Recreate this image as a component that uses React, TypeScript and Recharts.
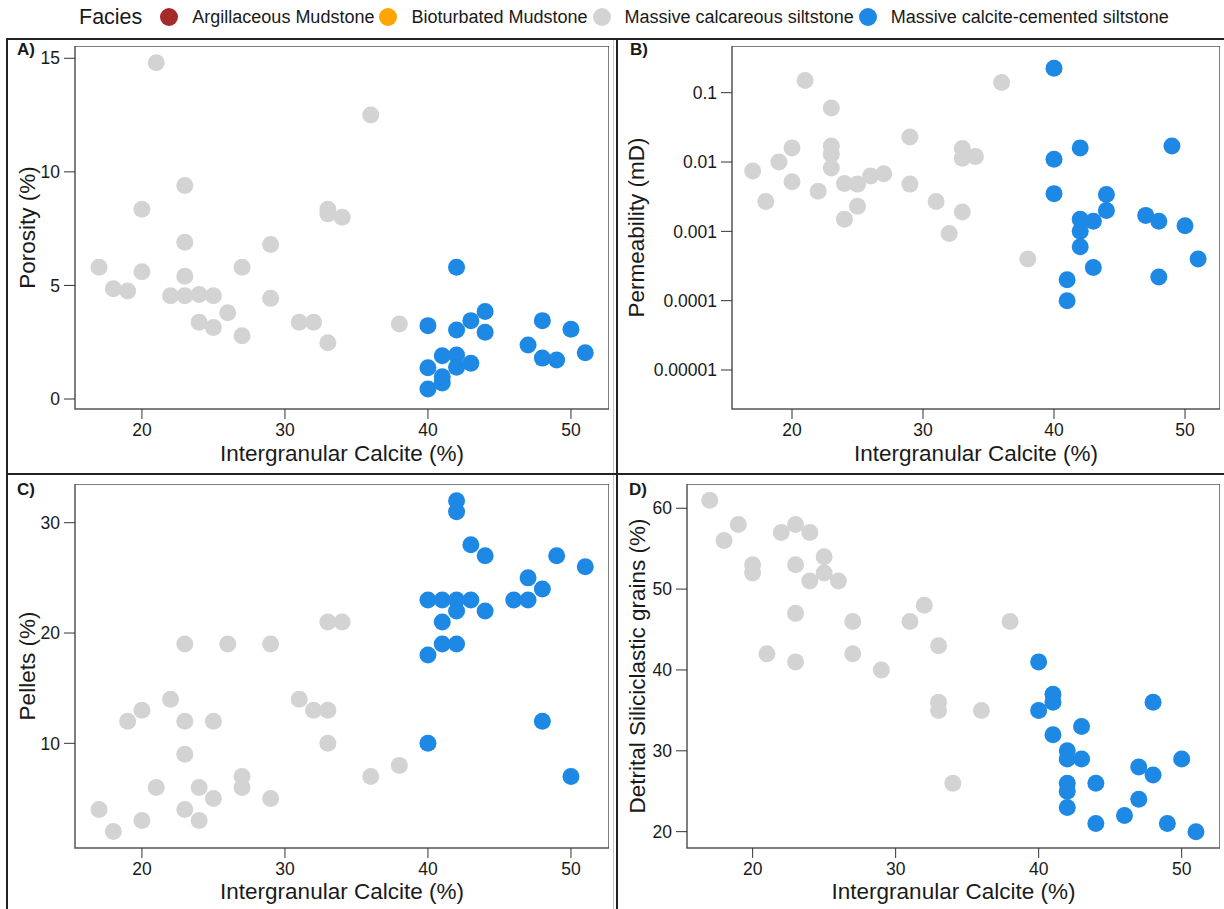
import { ScatterChart, Scatter, XAxis, YAxis, ReferenceArea } from "recharts";

const FONT = "'Liberation Sans', Arial, sans-serif";
const INK = "#1a1a1a";

// legend
const facies = [
  "Argillaceous Mudstone",
  "Bioturbated Mudstone",
  "Massive calcareous siltstone",
  "Massive calcite-cemented siltstone",
];
const faciesColors = ["#a52a2a", "#ffa500", "#d3d3d3", "#1e88e5"];

const xTicks = [20, 30, 40, 50];
const porosityTicks = [0, 5, 10, 15];
const permTicks = [0.00001, 0.0001, 0.001, 0.01, 0.1];
const pelletTicks = [10, 20, 30];
const detritalTicks = [20, 30, 40, 50, 60];

type Pt = [number, number];

// A) porosity vs intergranular calcite
const porosityCalcareous: Pt[] = [
  [21, 14.8], [23, 9.4], [20, 8.35], [23, 6.9], [29, 6.8], [17, 5.8], [27, 5.8],
  [20, 5.6], [23, 5.4], [18, 4.85], [19, 4.75], [22, 4.55], [23, 4.55], [24, 4.6],
  [25, 4.55], [29, 4.43], [26, 3.8], [24, 3.38], [31, 3.38], [25, 3.15], [27, 2.78],
  [36, 12.5], [33, 8.35], [33, 8.15], [34, 8.0], [32, 3.38], [33, 2.48], [38, 3.3],
];
const porosityCemented: Pt[] = [
  [42, 5.8], [44, 3.85], [43, 3.45], [40, 3.23], [42, 3.04], [44, 2.94], [48, 3.45],
  [50, 3.07], [47, 2.38], [51, 2.04], [48, 1.8], [49, 1.72], [41, 1.9], [42, 1.94],
  [43, 1.57], [42, 1.4], [40, 1.38], [41, 0.98], [41, 0.7], [40, 0.44],
];

// B) permeability (log)
const permCalcareous: Pt[] = [
  [21, 0.15], [23, 0.06], [29, 0.023], [20, 0.016], [23, 0.017], [23, 0.013],
  [19, 0.01], [23, 0.0082], [17, 0.0074], [27, 0.0068], [26, 0.0063], [20, 0.0052],
  [24, 0.0049], [25, 0.0048], [29, 0.0048], [22, 0.0038], [18, 0.0027], [25, 0.0023],
  [24, 0.0015], [36, 0.14], [33, 0.0157], [33, 0.0113], [34, 0.012], [31, 0.0027],
  [33, 0.0019], [32, 0.00093], [38, 0.0004],
];
const permCemented: Pt[] = [
  [40, 0.225], [42, 0.016], [49, 0.017], [40, 0.011], [40, 0.0035], [44, 0.0034],
  [44, 0.002], [47, 0.0017], [48, 0.0014], [42, 0.0015], [43, 0.0014], [50, 0.0012],
  [42, 0.001], [42, 0.0006], [51, 0.0004], [43, 0.0003], [48, 0.00022], [41, 0.0002],
  [41, 0.0001],
];

// C) pellets
const pelletCalcareous: Pt[] = [
  [23, 19], [26, 19], [29, 19], [22, 14], [31, 14], [20, 13], [19, 12], [23, 12],
  [25, 12], [23, 9], [27, 7], [21, 6], [24, 6], [27, 6], [25, 5], [29, 5], [17, 4],
  [23, 4], [20, 3], [24, 3], [18, 2], [33, 21], [34, 21], [32, 13], [33, 13],
  [33, 10], [38, 8], [36, 7],
];
const pelletCemented: Pt[] = [
  [42, 32], [42, 31], [43, 28], [44, 27], [49, 27], [51, 26], [47, 25], [48, 24],
  [40, 23], [41, 23], [42, 23], [43, 23], [46, 23], [47, 23], [42, 22], [44, 22],
  [41, 21], [41, 19], [42, 19], [40, 18], [48, 12], [40, 10], [50, 7],
];

// D) detrital siliciclastic grains
const detritalCalcareous: Pt[] = [
  [17, 61], [18, 56], [19, 58], [20, 53], [20, 52], [21, 42], [22, 57], [23, 58],
  [24, 57], [23, 53], [24, 51], [25, 54], [25, 52], [26, 51], [23, 47], [23, 41],
  [27, 46], [27, 42], [29, 40], [31, 46], [32, 48], [38, 46], [33, 43], [33, 36],
  [33, 35], [36, 35], [34, 26],
];
const detritalCemented: Pt[] = [
  [40, 41], [41, 37], [41, 36], [40, 35], [48, 36], [43, 33], [41, 32], [42, 30],
  [42, 29], [43, 29], [50, 29], [47, 28], [48, 27], [42, 26], [44, 26], [42, 25],
  [47, 24], [42, 23], [46, 22], [44, 21], [49, 21], [51, 20],
];

const toData = (pts: Pt[]) => pts.map(([x, y]) => ({ x, y }));

const dot = (color: string) => (p: any) => (
  <circle cx={p.cx} cy={p.cy} r={8.5} fill={color} />
);

const X_AXIS_H = 60;
const TITLE_SIZE = 22.5;

function Panel(props: {
  left: number;
  top: number;
  plotW: number;
  plotH: number;
  yWidth: number;
  xDomain: [number, number];
  yDomain: [number, number];
  yTicks: number[];
  logY?: boolean;
  yTitle: string;
  yTitleOffset: number;
  xTitleOffset: number;
  gray: Pt[];
  blue: Pt[];
}) {
  const p = props;
  return (
    <div style={{ position: "absolute", left: p.left - p.yWidth, top: p.top }}>
      <ScatterChart
        width={p.plotW + p.yWidth}
        height={p.plotH + X_AXIS_H}
        margin={{ top: 0, right: 0, bottom: 0, left: 0 }}
      >
        <XAxis
          type="number"
          dataKey="x"
          domain={p.xDomain}
          ticks={xTicks}
          interval={0}
          allowDataOverflow
          height={X_AXIS_H}
          axisLine={false}
          tickSize={10}
          tickMargin={5}
          tickLine={{ stroke: "#333" }}
          tick={{ fontSize: 17.5, fill: INK }}
          label={{
            value: "Intergranular Calcite (%)",
            position: "insideBottom",
            offset: p.xTitleOffset,
            fontSize: TITLE_SIZE,
            fill: INK,
          }}
        />
        <YAxis
          type="number"
          dataKey="y"
          scale={p.logY ? "log" : "linear"}
          domain={p.yDomain}
          ticks={p.yTicks}
          interval={0}
          allowDataOverflow
          width={p.yWidth}
          axisLine={false}
          tickSize={11}
          tickMargin={4}
          tickLine={{ stroke: "#333" }}
          tick={{ fontSize: 17.5, fill: INK }}
          tickFormatter={(v: number) => String(v)}
          label={{
            value: p.yTitle,
            angle: -90,
            position: "insideLeft",
            offset: p.yTitleOffset,
            fontSize: TITLE_SIZE,
            fill: INK,
            style: { textAnchor: "middle" },
          }}
        />
        <ReferenceArea
          x1={p.xDomain[0]}
          x2={p.xDomain[1]}
          y1={p.yDomain[0]}
          y2={p.yDomain[1]}
          fill="none"
          stroke="#555"
          strokeWidth={1.5}
          ifOverflow="visible"
        />
        <Scatter
          data={toData(p.gray)}
          fill={faciesColors[2]}
          shape={dot(faciesColors[2])}
          isAnimationActive={false}
        />
        <Scatter
          data={toData(p.blue)}
          fill={faciesColors[3]}
          shape={dot(faciesColors[3])}
          isAnimationActive={false}
        />
      </ScatterChart>
    </div>
  );
}

const line = (left: number, top: number, width: number, height: number, color = "#222") => (
  <div style={{ position: "absolute", left, top, width, height, background: color }} />
);

const panelTag = (text: string, left: number, top: number) => (
  <div style={{ position: "absolute", left, top, fontSize: 17, fontWeight: "bold", color: INK }}>
    {text}
  </div>
);

export default function App() {
  return (
    <div
      style={{
        position: "absolute",
        left: 0,
        top: 0,
        width: 1224,
        height: 909,
        background: "#fff",
        fontFamily: FONT,
        color: INK,
        overflow: "hidden",
      }}
    >
      {/* legend */}
      <div style={{ position: "absolute", left: 79, top: 3, height: 28, display: "flex", alignItems: "center" }}>
        <span style={{ fontSize: 21.5, marginRight: 18 }}>Facies</span>
        {facies.map((f, i) => (
          <span key={f} style={{ display: "flex", alignItems: "center", marginRight: 5 }}>
            <span
              style={{
                width: 18,
                height: 18,
                borderRadius: "50%",
                background: faciesColors[i],
                marginRight: 14,
              }}
            />
            <span style={{ fontSize: 18 }}>{f}</span>
          </span>
        ))}
      </div>

      {/* frame */}
      {line(7, 38, 1217, 2)}
      {line(6, 38, 2, 871)}
      {line(7, 473, 1217, 2)}
      {line(616, 38, 2, 871)}
      {line(613, 40, 1, 433, "#c8c8c8")}
      {line(613, 475, 1, 434, "#c8c8c8")}

      <Panel
        left={75} top={46} plotW={534} plotH={363} yWidth={70}
        xDomain={[15.32, 52.66]} yDomain={[-0.44, 15.54]} yTicks={porosityTicks}
        yTitle="Porosity (%)" yTitleOffset={22} xTitleOffset={8}
        gray={porosityCalcareous} blue={porosityCemented}
      />
      <Panel
        left={732} top={46} plotW={488} plotH={363} yWidth={112}
        xDomain={[15.42, 52.67]} yDomain={[0.000002738, 0.4717]} yTicks={permTicks} logY
        yTitle="Permeability (mD)" yTitleOffset={16} xTitleOffset={8}
        gray={permCalcareous} blue={permCemented}
      />
      <Panel
        left={75} top={484} plotW={534} plotH={364} yWidth={70}
        xDomain={[15.32, 52.66]} yDomain={[0.51, 33.51]} yTicks={pelletTicks}
        yTitle="Pellets (%)" yTitleOffset={22} xTitleOffset={9}
        gray={pelletCalcareous} blue={pelletCemented}
      />
      <Panel
        left={687} top={484} plotW={533} plotH={364} yWidth={67}
        xDomain={[15.41, 52.68]} yDomain={[17.98, 63.0]} yTicks={detritalTicks}
        yTitle="Detrital Siliciclastic grains (%)" yTitleOffset={17} xTitleOffset={9}
        gray={detritalCalcareous} blue={detritalCemented}
      />

      {panelTag("A)", 17, 40)}
      {panelTag("B)", 630, 40)}
      {panelTag("C)", 17, 480)}
      {panelTag("D)", 629, 480)}
    </div>
  );
}
